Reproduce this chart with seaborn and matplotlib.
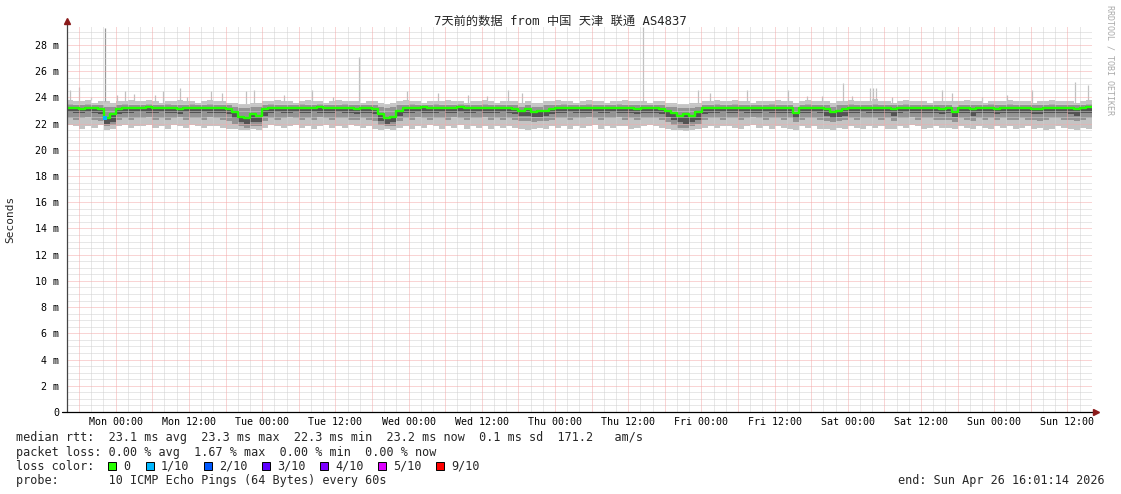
"""SmokePing style latency chart: 7 days, median rtt with smoke bands."""

import numpy as np
import pandas as pd
import matplotlib
matplotlib.use('Agg')
import matplotlib.pyplot as plt
import seaborn as sns
from matplotlib.patches import Rectangle

W, H = 1121, 494

TITLE = '7天前的数据 from 中国 天津 联通 AS4837'
DAY_LABELS = ['Mon 00:00', 'Mon 12:00', 'Tue 00:00', 'Tue 12:00', 'Wed 00:00',
              'Wed 12:00', 'Thu 00:00', 'Thu 12:00', 'Fri 00:00', 'Fri 12:00',
              'Sat 00:00', 'Sat 12:00', 'Sun 00:00', 'Sun 12:00']

# one value per hour, starting Sun 16:01 (ms)
median_ms = [
    23.2, 23.2, 23.1, 23.2, 23.2, 23.1, 22.4, 22.7, 23.1, 23.2, 23.2, 23.2,
    23.2, 23.3, 23.2, 23.2, 23.2, 23.2, 23.1, 23.2, 23.2, 23.2, 23.2, 23.2,
    23.2, 23.2, 23.1, 22.9, 22.5, 22.4, 22.7, 22.6, 23.1, 23.2, 23.2, 23.2,
    23.2, 23.2, 23.2, 23.2, 23.2, 23.3, 23.2, 23.2, 23.2, 23.2, 23.2, 23.1,
    23.2, 23.2, 23.1, 22.7, 22.4, 22.5, 23.0, 23.2, 23.2, 23.2, 23.3, 23.2,
    23.2, 23.2, 23.2, 23.2, 23.3, 23.2, 23.2, 23.2, 23.2, 23.2, 23.2, 23.2,
    23.2, 23.1, 23.0, 23.1, 22.9, 23.0, 23.0, 23.1, 23.2, 23.2, 23.2, 23.2,
    23.2, 23.2, 23.2, 23.2, 23.2, 23.2, 23.2, 23.2, 23.2, 23.1, 23.2, 23.2,
    23.2, 23.1, 23.0, 22.8, 22.6, 22.7, 22.6, 22.9, 23.2, 23.2, 23.2, 23.2,
    23.2, 23.2, 23.2, 23.2, 23.2, 23.2, 23.2, 23.2, 23.2, 23.2, 23.2, 22.8,
    23.2, 23.2, 23.2, 23.2, 23.1, 22.9, 23.0, 23.1, 23.2, 23.2, 23.2, 23.2,
    23.2, 23.2, 23.2, 23.1, 23.2, 23.2, 23.2, 23.2, 23.2, 23.2, 23.2, 23.1,
    23.2, 22.9, 23.2, 23.2, 23.1, 23.2, 23.2, 23.2, 23.1, 23.2, 23.2, 23.2,
    23.2, 23.2, 23.1, 23.1, 23.2, 23.2, 23.2, 23.2, 23.2, 23.1, 23.2, 23.3,
]
ping_min = [
    21.9, 21.8, 21.6, 21.8, 21.7, 21.9, 21.5, 21.6, 21.8, 21.9, 21.7, 21.8,
    21.8, 21.9, 21.7, 21.8, 21.6, 21.9, 21.8, 21.7, 21.9, 21.8, 21.7, 21.8,
    21.8, 21.7, 21.6, 21.6, 21.5, 21.5, 21.6, 21.5, 21.7, 21.9, 21.8, 21.7,
    21.8, 21.9, 21.7, 21.8, 21.6, 21.8, 21.9, 21.7, 21.8, 21.7, 21.9, 21.8,
    21.7, 21.8, 21.6, 21.5, 21.6, 21.5, 21.7, 21.8, 21.6, 21.8, 21.7, 21.9,
    21.8, 21.6, 21.8, 21.7, 21.9, 21.6, 21.8, 21.7, 21.8, 21.6, 21.8, 21.7,
    21.8, 21.7, 21.6, 21.5, 21.6, 21.7, 21.6, 21.8, 21.7, 21.8, 21.6, 21.8,
    21.7, 21.8, 21.9, 21.6, 21.8, 21.7, 21.8, 21.8, 21.6, 21.7, 21.8, 21.9,
    21.8, 21.7, 21.6, 21.5, 21.5, 21.4, 21.5, 21.6, 21.7, 21.8, 21.7, 21.8,
    21.8, 21.7, 21.6, 21.8, 21.9, 21.7, 21.8, 21.6, 21.8, 21.7, 21.6, 21.5,
    21.8, 21.7, 21.8, 21.6, 21.6, 21.5, 21.7, 21.6, 21.8, 21.7, 21.6, 21.8,
    21.7, 21.8, 21.6, 21.6, 21.8, 21.7, 21.9, 21.8, 21.6, 21.7, 21.8, 21.7,
    21.7, 21.6, 21.8, 21.7, 21.6, 21.8, 21.7, 21.6, 21.8, 21.7, 21.8, 21.6,
    21.7, 21.8, 21.6, 21.7, 21.5, 21.6, 21.8, 21.7, 21.6, 21.5, 21.7, 21.6,
]
ping_max = [
    23.8, 23.7, 23.7, 23.8, 23.6, 23.7, 23.7, 23.6, 23.7, 23.7, 23.8, 23.7,
    23.7, 23.8, 23.7, 23.6, 23.7, 23.7, 23.8, 23.7, 23.7, 23.6, 23.7, 23.8,
    23.7, 23.7, 23.6, 23.6, 23.5, 23.5, 23.6, 23.6, 23.7, 23.7, 23.8, 23.7,
    23.7, 23.6, 23.7, 23.8, 23.7, 23.7, 23.6, 23.7, 23.8, 23.7, 23.7, 23.7,
    23.6, 23.7, 23.7, 23.6, 23.5, 23.6, 23.7, 23.8, 23.7, 23.7, 23.6, 23.7,
    23.7, 23.7, 23.8, 23.7, 23.7, 23.6, 23.7, 23.7, 23.8, 23.7, 23.6, 23.7,
    23.7, 23.7, 23.6, 23.7, 23.6, 23.6, 23.7, 23.7, 23.8, 23.7, 23.7, 23.6,
    23.7, 23.8, 23.7, 23.7, 23.6, 23.7, 23.7, 23.8, 23.7, 23.7, 23.7, 23.6,
    23.7, 23.7, 23.6, 23.6, 23.5, 23.5, 23.6, 23.6, 23.7, 23.7, 23.8, 23.7,
    23.7, 23.8, 23.7, 23.7, 23.6, 23.7, 23.7, 23.7, 23.8, 23.7, 23.7, 23.6,
    23.7, 23.8, 23.7, 23.7, 23.7, 23.6, 23.7, 23.7, 23.8, 23.7, 23.7, 23.7,
    23.9, 23.7, 23.7, 23.6, 23.7, 23.8, 23.7, 23.7, 23.7, 23.6, 23.7, 23.7,
    23.7, 23.7, 23.7, 23.8, 23.7, 23.7, 23.6, 23.7, 23.7, 23.7, 23.8, 23.7,
    23.7, 23.7, 23.6, 23.7, 23.7, 23.8, 23.7, 23.7, 23.7, 23.6, 23.7, 23.8,
]
mid_low = [
    22.4, 22.3, 22.4, 22.5, 22.3, 22.2, 21.8, 21.9, 22.3, 22.4, 22.3, 22.4,
    22.4, 22.5, 22.3, 22.4, 22.3, 22.4, 22.5, 22.3, 22.4, 22.4, 22.3, 22.5,
    22.4, 22.3, 22.2, 22.0, 21.8, 21.7, 21.8, 21.8, 22.2, 22.4, 22.3, 22.4,
    22.5, 22.4, 22.3, 22.4, 22.3, 22.5, 22.4, 22.3, 22.4, 22.4, 22.3, 22.3,
    22.4, 22.3, 22.2, 21.9, 21.8, 21.8, 22.2, 22.4, 22.3, 22.5, 22.4, 22.3,
    22.4, 22.4, 22.3, 22.5, 22.4, 22.3, 22.4, 22.4, 22.5, 22.3, 22.4, 22.3,
    22.4, 22.3, 22.2, 22.2, 22.1, 22.2, 22.2, 22.3, 22.4, 22.4, 22.3, 22.4,
    22.4, 22.5, 22.4, 22.3, 22.4, 22.4, 22.5, 22.3, 22.4, 22.3, 22.4, 22.4,
    22.4, 22.3, 22.1, 21.9, 21.7, 21.7, 21.8, 22.0, 22.3, 22.4, 22.4, 22.3,
    22.4, 22.4, 22.3, 22.4, 22.5, 22.4, 22.3, 22.4, 22.4, 22.3, 22.4, 22.1,
    22.3, 22.4, 22.4, 22.3, 22.2, 22.1, 22.2, 22.3, 22.4, 22.3, 22.4, 22.4,
    22.4, 22.3, 22.4, 22.2, 22.4, 22.4, 22.5, 22.3, 22.4, 22.4, 22.3, 22.3,
    22.3, 22.1, 22.4, 22.3, 22.2, 22.4, 22.3, 22.4, 22.3, 22.4, 22.3, 22.3,
    22.4, 22.3, 22.3, 22.2, 22.3, 22.4, 22.4, 22.3, 22.3, 22.2, 22.3, 22.4,
]
mid_high = [
    23.5, 23.4, 23.4, 23.5, 23.4, 23.4, 23.3, 23.3, 23.4, 23.5, 23.4, 23.4,
    23.4, 23.5, 23.4, 23.4, 23.5, 23.4, 23.4, 23.4, 23.5, 23.4, 23.4, 23.5,
    23.4, 23.4, 23.4, 23.3, 23.2, 23.2, 23.3, 23.3, 23.4, 23.5, 23.4, 23.4,
    23.4, 23.4, 23.5, 23.4, 23.4, 23.5, 23.4, 23.4, 23.4, 23.5, 23.4, 23.4,
    23.4, 23.4, 23.4, 23.3, 23.2, 23.3, 23.4, 23.4, 23.5, 23.4, 23.4, 23.4,
    23.5, 23.4, 23.4, 23.4, 23.5, 23.4, 23.4, 23.4, 23.5, 23.4, 23.4, 23.4,
    23.4, 23.4, 23.3, 23.4, 23.3, 23.3, 23.4, 23.4, 23.4, 23.5, 23.4, 23.4,
    23.4, 23.5, 23.4, 23.4, 23.4, 23.4, 23.5, 23.4, 23.4, 23.4, 23.4, 23.4,
    23.4, 23.4, 23.3, 23.3, 23.2, 23.2, 23.2, 23.3, 23.4, 23.4, 23.5, 23.4,
    23.4, 23.5, 23.4, 23.4, 23.4, 23.4, 23.4, 23.5, 23.4, 23.4, 23.4, 23.3,
    23.4, 23.5, 23.4, 23.4, 23.4, 23.3, 23.4, 23.4, 23.5, 23.4, 23.4, 23.4,
    23.5, 23.4, 23.4, 23.4, 23.4, 23.5, 23.4, 23.4, 23.4, 23.4, 23.4, 23.4,
    23.4, 23.3, 23.4, 23.4, 23.4, 23.4, 23.4, 23.5, 23.4, 23.4, 23.5, 23.4,
    23.4, 23.4, 23.4, 23.4, 23.4, 23.5, 23.4, 23.4, 23.4, 23.4, 23.4, 23.5,
]
core_low = [
    22.9, 22.8, 22.8, 22.9, 22.8, 22.7, 22.0, 22.1, 22.7, 22.8, 22.8, 22.9,
    22.9, 22.8, 22.8, 22.9, 22.8, 22.8, 22.7, 22.9, 22.8, 22.8, 22.9, 22.8,
    22.8, 22.8, 22.7, 22.4, 22.1, 22.0, 22.1, 22.1, 22.6, 22.8, 22.9, 22.8,
    22.8, 22.9, 22.8, 22.8, 22.9, 22.8, 22.8, 22.8, 22.9, 22.8, 22.8, 22.7,
    22.8, 22.8, 22.7, 22.2, 22.0, 22.1, 22.6, 22.8, 22.8, 22.9, 22.8, 22.8,
    22.8, 22.9, 22.8, 22.8, 22.9, 22.8, 22.8, 22.9, 22.8, 22.8, 22.8, 22.9,
    22.8, 22.7, 22.6, 22.6, 22.5, 22.5, 22.6, 22.7, 22.8, 22.8, 22.9, 22.8,
    22.8, 22.8, 22.9, 22.8, 22.8, 22.9, 22.8, 22.8, 22.8, 22.7, 22.8, 22.8,
    22.8, 22.7, 22.5, 22.3, 22.1, 22.0, 22.1, 22.3, 22.7, 22.8, 22.8, 22.9,
    22.8, 22.8, 22.9, 22.8, 22.8, 22.8, 22.9, 22.8, 22.8, 22.8, 22.8, 22.4,
    22.8, 22.8, 22.9, 22.8, 22.6, 22.4, 22.5, 22.6, 22.8, 22.8, 22.9, 22.8,
    22.8, 22.8, 22.8, 22.6, 22.8, 22.9, 22.8, 22.8, 22.8, 22.8, 22.8, 22.7,
    22.8, 22.5, 22.8, 22.8, 22.6, 22.8, 22.8, 22.8, 22.7, 22.8, 22.8, 22.8,
    22.8, 22.8, 22.7, 22.7, 22.8, 22.8, 22.8, 22.8, 22.7, 22.6, 22.8, 22.8,
]

# single-ping outliers above the smoke (hour, ms)
spike_h = [0.5, 2.0, 3.9, 6.3, 8.2, 9.5, 11.0, 14.4, 15.7, 18.5, 19.7, 23.6,
           25.4, 29.3, 30.7, 35.6, 40.2, 43.6, 47.9, 55.7, 60.8, 65.7, 68.8,
           72.3, 74.6, 94.4, 103.4, 105.4, 111.5, 118.2, 121.3, 123.7, 127.2,
           128.7, 131.6, 132.1, 132.6, 135.2, 143.4, 145.1, 150.0, 154.1,
           158.2, 165.2, 167.3]
spike_ms = [24.6, 24.8, 24.05, 29.3, 24.2, 24.5, 24.25, 24.2, 24.45, 24.7, 24.0,
            24.45, 24.3, 24.45, 24.55, 24.2, 24.55, 24.0, 27.1, 24.45, 24.3,
            24.2, 24.1, 24.6, 24.3, 29.4, 24.55, 24.3, 24.55, 24.55, 24.1,
            24.1, 25.1, 24.1, 24.75, 24.75, 24.7, 24.0, 24.55, 24.3, 24.0,
            24.2, 24.55, 25.2, 24.95]

# sample with 1/10 loss
loss_h = [6.3]
loss_ms = [22.4]

LOSS_COLORS = ['#26ff00', '#00b8ff', '#0059ff', '#5e00ff', '#7e00ff', '#dd00ff', '#ff0000']
LOSS_LABELS = ['0', '1/10', '2/10', '3/10', '4/10', '5/10', '9/10']

sns.set_theme(style='white')
plt.rcParams['font.family'] = ['DejaVu Sans Mono', 'Noto Sans CJK SC']


def ext(a):
    a = np.asarray(a, dtype=float)
    return np.append(a, a[-1])


fig = plt.figure(figsize=(W / 100, H / 100), dpi=100)
fig.patch.set_facecolor('white')
ax = fig.add_axes([67 / W, 1 - 412 / H, 1025 / W, 385 / H])
ax.set_facecolor('white')

edges = np.arange(len(median_ms) + 1)
ax.fill_between(edges, ext(ping_min), ext(ping_max), step='post', color='#c4c4c4', lw=0, zorder=1)
ax.fill_between(edges, ext(mid_low), ext(mid_high), step='post', color='#939393', lw=0, zorder=1.1)
ax.fill_between(edges, ext(core_low), ext(median_ms), step='post', color='#535353', lw=0, zorder=1.2)

spike_base = np.asarray(ping_max)[np.floor(spike_h).astype(int)]
spike_col = ['#999999' if v > 29 and h < 10 else '#c0c0c0' for h, v in zip(spike_h, spike_ms)]
ax.vlines(spike_h, spike_base, spike_ms, colors=spike_col, lw=0.9, zorder=1.05)

df = pd.DataFrame({'hour': edges, 'median': ext(median_ms)})
sns.lineplot(data=df, x='hour', y='median', drawstyle='steps-post', color='#22ff00',
             lw=1.7, ax=ax, zorder=3)
ax.scatter(loss_h, loss_ms, marker='s', s=6, color=LOSS_COLORS[1], zorder=4, lw=0)

ax.set_xlim(0, 168)
ax.set_ylim(0, 29.37)
ax.set_xlabel('')
ax.set_ylabel('')

# time axis: start at Sun 16:01:14, Mon 00:00 falls just before hour 8
t0 = 8 - (1 + 14 / 60) / 60
major_x = t0 - 6 + 6 * np.arange(28)
minor_x = [v for v in t0 - 6 + 2 * np.arange(84) if v < 168 and (round((v - t0) / 2) % 3) != 0]
major_y = np.arange(0, 29, 2)
minor_y = [v for v in np.arange(0.5, 29.4, 0.5) if v % 2 != 0]

ax.set_xticks(major_x)
ax.set_xticklabels([DAY_LABELS[i // 2] if i % 2 == 1 else '' for i in range(28)])
ax.set_yticks(major_y)
ax.set_yticklabels(['0'] + [f'{v} m' for v in range(2, 29, 2)])

# dotted grid
dots = dict(linestyle=(0, (1, 1)), linewidth=0.72, zorder=2)
for v in minor_x:
    ax.axvline(v, color='#d0d0d0', **dots)
for v in minor_y:
    ax.axhline(v, color='#d0d0d0', **dots)
for v in major_x:
    ax.axvline(v, color='#f4aaaa', **dots)
for v in major_y[1:]:
    ax.axhline(v, color='#f4aaaa', **dots)

ax.grid(False)
ax.tick_params(which='major', length=2.2, width=0.7, color='#444444', labelsize=7.2,
               labelcolor='black', direction='out')
ax.tick_params(axis='x', which='major', pad=1.5)
ax.tick_params(axis='y', which='major', pad=3.5)
for s in ax.spines.values():
    s.set_visible(False)

# axis lines with arrow heads
ax.plot([0, 0], [0, 1 + 4 / 385], transform=ax.transAxes, color='#444444', lw=0.9, clip_on=False, zorder=5)
ax.plot([-5 / 1025, 1 + 2 / 1025], [0, 0], transform=ax.transAxes, color='black', lw=0.9, clip_on=False, zorder=5)
ax.plot([0], [1 + 6 / 385], marker='^', ms=4, color='#8b1a1a', transform=ax.transAxes, clip_on=False, zorder=5)
ax.plot([1 + 4 / 1025], [0], marker='>', ms=4, color='#8b1a1a', transform=ax.transAxes, clip_on=False, zorder=5)


def ftext(x, y, s, **kw):
    kw.setdefault('fontsize', 8.5)
    kw.setdefault('va', 'center')
    kw.setdefault('ha', 'left')
    fig.text(x / W, 1 - y / H, s, **kw)


ftext(560.5, 21, TITLE, ha='center', fontsize=8.8, family=['DejaVu Sans Mono', 'Noto Sans CJK SC'])
ftext(10, 219, 'Seconds', ha='center', rotation=90, fontsize=8)
ftext(1110, 60, 'RRDTOOL / TOBI OETIKER', ha='center', rotation=270, fontsize=6, color='#aaaaaa')

ftext(16, 437, 'median rtt:  23.1 ms avg  23.3 ms max  22.3 ms min  23.2 ms now  0.1 ms sd  171.2   am/s')
ftext(16, 452, 'packet loss: 0.00 % avg  1.67 % max  0.00 % min  0.00 % now')
ftext(16, 466, 'loss color:')
ftext(16, 480, 'probe:       10 ICMP Echo Pings (64 Bytes) every 60s')
ftext(1105, 480, 'end: Sun Apr 26 16:01:14 2026', ha='right')

sq_x = [108, 146, 204, 262, 320, 378, 436]
for x, c, lab in zip(sq_x, LOSS_COLORS, LOSS_LABELS):
    fig.add_artist(Rectangle((x / W, 1 - 470 / H), 8 / W, 8 / H, transform=fig.transFigure,
                             facecolor=c, edgecolor='black', lw=0.7))
    ftext(x + 15, 466, lab)

fig.savefig('out.png', dpi=100, facecolor='white')
